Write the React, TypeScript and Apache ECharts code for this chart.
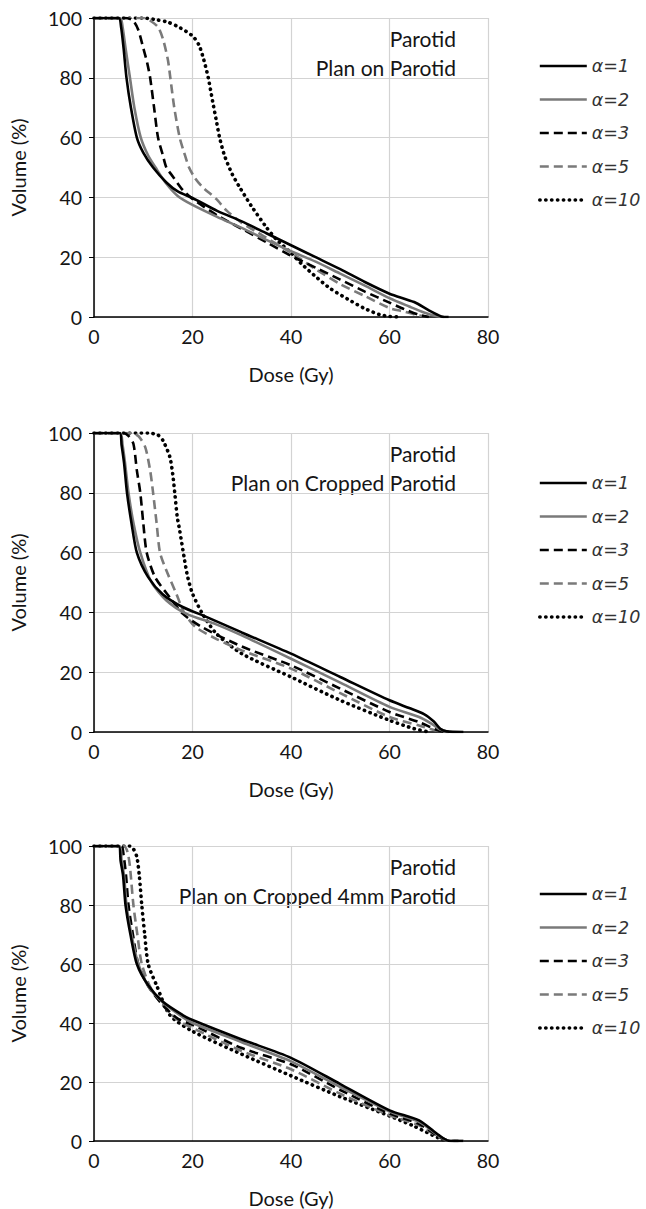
import React, { useEffect, useRef } from "react";
import * as echarts from "echarts";

// Tick labels / categories
const xTicks = [0, 20, 40, 60, 80];
const yTicks = [0, 20, 40, 60, 80, 100];
const seriesNames = ["α=1", "α=2", "α=3", "α=5", "α=10"];
const panelTitles = [
  ["Parotid", "Plan on Parotid"],
  ["Parotid", "Plan on Cropped Parotid"],
  ["Parotid", "Plan on Cropped 4mm Parotid"],
];

// Panel 1: Plan on Parotid  [dose Gy, volume %]
const p1a1 = [[0,100],[5,100],[5.5,97],[6,90],[6.6,80],[7.5,70],[8.7,60],[10,55],[12,50],[14.7,45],[17,42],[20,39.8],[25,35.5],[30,32],[35,28],[40,24],[45,20],[50,16],[55,11.7],[60,7.8],[65,5],[68,2.2],[70.5,0.2],[72,0]];
const p1a2 = [[0,100],[5.3,100],[5.8,97],[6.4,90],[7.3,80],[8.2,70],[9.5,60],[11,54],[12.5,50],[14.5,45],[17,40.5],[20,37.5],[25,33.5],[30,29.8],[35,25.8],[40,22],[45,18.5],[50,14.5],[55,10.5],[60,6.3],[64,3.5],[67,1.5],[69.5,0.3],[71,0]];
const p1a3 = [[0,100],[6.5,100],[8,99],[9,96],[10,90],[10.8,85],[11.4,80],[12.2,70],[13,60],[14,54],[14.7,50],[16,47],[18,42.5],[20,39.5],[25,34],[30,29.5],[35,25],[40,20.5],[45,16.5],[50,12.5],[55,8.5],[60,4.8],[63,2.6],[66,0.7],[68,0]];
const p1a5 = [[0,100],[10,100],[11.5,99],[13,97],[14,93],[15,86],[15.5,80],[16.3,70],[17.4,60],[18.3,55],[19.3,50],[20.5,46.5],[22,43.5],[24.8,39.5],[27,35.5],[30,31.5],[33,28.5],[36,25.5],[40,21.5],[45,16],[50,11],[55,7],[60,3],[63,1.8],[66,0.5],[68,0]];
const p1a10 = [[0,100],[10,100],[12.7,99.4],[15,98.6],[17.4,96.8],[20,94],[21.3,91],[22.3,86],[23.2,80],[24.1,72],[24.8,66],[25.5,60],[26.5,54],[28,48],[29.5,43.6],[32,37],[35,30],[37,26],[40,21.5],[42,18],[44.8,13.8],[48,9.5],[51.5,6],[55,2.8],[58,0.8],[60,0.2],[62,0]];

// Panel 2: Plan on Cropped Parotid
const p2a1 = [[0,100],[5.2,100],[5.6,96],[6.1,90],[6.7,80],[7.6,70],[8.7,60],[11,51.8],[14,46],[18,41.8],[22.8,38.5],[30,33.3],[40,26.2],[50,18.4],[60,10.6],[64,8],[67,6],[69,3.5],[70.3,1.1],[71.6,0.2],[75,0]];
const p2a2 = [[0,100],[5.3,100],[5.8,96],[6.3,90],[7,80],[8,70],[9.4,60],[11.7,50],[14.7,44],[18.7,39.6],[24.8,36],[30,32.3],[40,24.5],[50,16.5],[60,8.4],[66,5],[68.5,2.8],[70,1.1],[72,0]];
const p2a3 = [[0,100],[6,100],[7,99],[8,96.4],[8.7,87.5],[9.4,80],[10,70],[10.7,60],[12.4,51.8],[15.4,45],[18,39.6],[22,35],[30,28.6],[40,22.3],[50,14.5],[60,6.7],[66,3.3],[70,0.5],[72,0]];
const p2a5 = [[0,100],[7.5,100],[9,99],[10.4,95.3],[11.4,87.5],[12,80],[12.7,70],[13.4,60],[14.7,54],[16.7,46.3],[18.4,39.6],[20.7,35],[25,31],[30,27.3],[40,21.2],[50,13],[60,5],[66,2.2],[70,0.3],[72,0]];
const p2a10 = [[0,100],[11,100],[13,99.3],[14,97.5],[15.4,92],[16,86],[16.4,80],[16.9,72],[17.4,67.4],[18.4,57.4],[19,52],[20,46.3],[22,39.6],[24.8,33],[30,26.2],[40,18.4],[50,10.6],[60,3.9],[65,1.1],[68,0]];

// Panel 3: Plan on Cropped 4mm Parotid
const p3a1 = [[0,100],[5,100],[5.4,95],[5.9,90],[6.4,80],[7.4,70],[8.7,60],[11,52.8],[14,47.2],[18,42.7],[20,41],[30,34.4],[40,28.2],[50,19.3],[60,10.4],[66,7],[70,2],[72,0.1],[75,0]];
const p3a2 = [[0,100],[5.2,100],[5.6,95],[6.1,90],[6.6,80],[7.6,70],[9,60],[11.2,52],[14.3,46.5],[18,42],[20,40],[30,33.5],[40,27],[50,18.3],[60,10],[66,6.5],[70,1.8],[72,0.1],[75,0]];
const p3a3 = [[0,100],[5.5,100],[6,97],[6.5,90],[7,80],[7.9,70],[9,60],[11,52.5],[14,46],[17,41.5],[20,39.4],[30,31.5],[40,26],[50,17.3],[60,9.3],[66,5.8],[70,1.5],[72,0.1],[74,0]];
const p3a5 = [[0,100],[6,100],[6.8,98],[7.3,93],[8,80],[8.8,70],[9.7,60],[11.5,52],[14.5,45],[17,41],[20,38.3],[30,30.5],[40,24.3],[50,16],[60,8.7],[66,5.3],[70,1.3],[72,0.1],[74,0]];
const p3a10 = [[0,100],[7.2,100],[8,99],[8.7,96.3],[9.2,90],[9.7,80],[10.3,70],[11,60],[12.7,52.8],[15.4,42.7],[20,37.2],[30,29.4],[40,22.1],[50,15],[60,8.5],[65,5],[70,1],[72,0]];

const panels = [
  [p1a1, p1a2, p1a3, p1a5, p1a10],
  [p2a1, p2a2, p2a3, p2a5, p2a10],
  [p3a1, p3a2, p3a3, p3a5, p3a10],
];

const styles = [
  { color: "#000000", width: 2.6, type: "solid" as any, cap: "butt" },
  { color: "#7a7a7a", width: 2.6, type: "solid" as any, cap: "butt" },
  { color: "#000000", width: 2.6, type: [9, 5] as any, cap: "butt" },
  { color: "#7a7a7a", width: 2.6, type: [9, 5] as any, cap: "butt" },
  { color: "#000000", width: 3.6, type: [0.3, 5.6] as any, cap: "round" },
];

const gridTops = [18, 433, 846];
const gridHeights = [299, 299, 298];
const legendTops = [57, 474, 885];
const FONT = "Lato";
const TXT = "#151515";

export default function App() {
  const ref = useRef<HTMLDivElement>(null);
  useEffect(() => {
    document.body.style.margin = "0";
    const chart = echarts.init(ref.current!, undefined, { renderer: "svg" });
    const grid: any[] = [];
    const xAxis: any[] = [];
    const yAxis: any[] = [];
    const series: any[] = [];
    const legend: any[] = [];
    const graphic: any[] = [];
    panels.forEach((panel, i) => {
      grid.push({ left: 90, top: gridTops[i], width: 398, height: gridHeights[i] });
      xAxis.push({
        gridIndex: i,
        type: "value",
        min: xTicks[0],
        max: xTicks[xTicks.length - 1],
        interval: 20,
        name: "Dose (Gy)",
        nameLocation: "middle",
        nameGap: 47,
        nameTextStyle: { fontFamily: FONT, fontSize: 20, color: TXT },
        axisLine: { lineStyle: { color: "#000", width: 1.5 } },
        axisTick: { show: false },
        axisLabel: { fontFamily: FONT, fontSize: 19.5, color: TXT, margin: 9 },
        splitLine: { show: true, lineStyle: { color: "#d3d3d3", width: 1.2 } },
      });
      yAxis.push({
        gridIndex: i,
        type: "value",
        min: yTicks[0],
        max: yTicks[yTicks.length - 1],
        interval: 20,
        name: "Volume (%)",
        nameLocation: "middle",
        nameGap: 66,
        nameTextStyle: { fontFamily: FONT, fontSize: 20, color: TXT },
        axisLine: { show: true, lineStyle: { color: "#000", width: 1.5 } },
        axisTick: { show: true, length: 5, lineStyle: { color: "#000", width: 1 } },
        axisLabel: { fontFamily: FONT, fontSize: 19.5, color: TXT, margin: 12 },
        splitLine: { show: true, lineStyle: { color: "#d3d3d3", width: 1.2 } },
      });
      panel.forEach((data, k) => {
        const st = styles[k];
        series.push({
          type: "line",
          name: seriesNames[k],
          xAxisIndex: i,
          yAxisIndex: i,
          data,
          symbol: "none",
          showSymbol: false,
          smooth: 0.25,
          z: 10 - k,
          itemStyle: { color: st.color },
          lineStyle: { color: st.color, width: st.width, type: st.type, cap: st.cap },
        });
      });
      legend.push({
        orient: "vertical",
        left: 538,
        top: legendTops[i],
        padding: 0,
        itemWidth: 47,
        itemHeight: 14,
        itemGap: 15.5,
        selectedMode: false,
        data: seriesNames.map((n, k) => ({
          name: n,
          lineStyle: { width: styles[k].width, type: styles[k].type, cap: styles[k].cap, color: styles[k].color },
        })),
        itemStyle: { opacity: 0 },
        textStyle: { fontFamily: "DejaVu Sans", fontStyle: "italic", fontSize: 17.5, color: "#333" },
      });
      const t = panelTitles[i];
      graphic.push({
        type: "text",
        x: 456,
        y: gridTops[i] + 20,
        style: { text: t[0], fontFamily: FONT, fontSize: 21, fill: TXT, align: "right", verticalAlign: "middle" },
      });
      graphic.push({
        type: "text",
        x: 456,
        y: gridTops[i] + 49,
        style: { text: t[1], fontFamily: FONT, fontSize: 21, fill: TXT, align: "right", verticalAlign: "middle" },
      });
    });
    chart.setOption({
      animation: false,
      backgroundColor: "#fff",
      grid,
      xAxis,
      yAxis,
      series,
      legend,
      graphic,
    });
    return () => chart.dispose();
  }, []);
  return <div ref={ref} style={{ width: 646, height: 1209 }} />;
}
